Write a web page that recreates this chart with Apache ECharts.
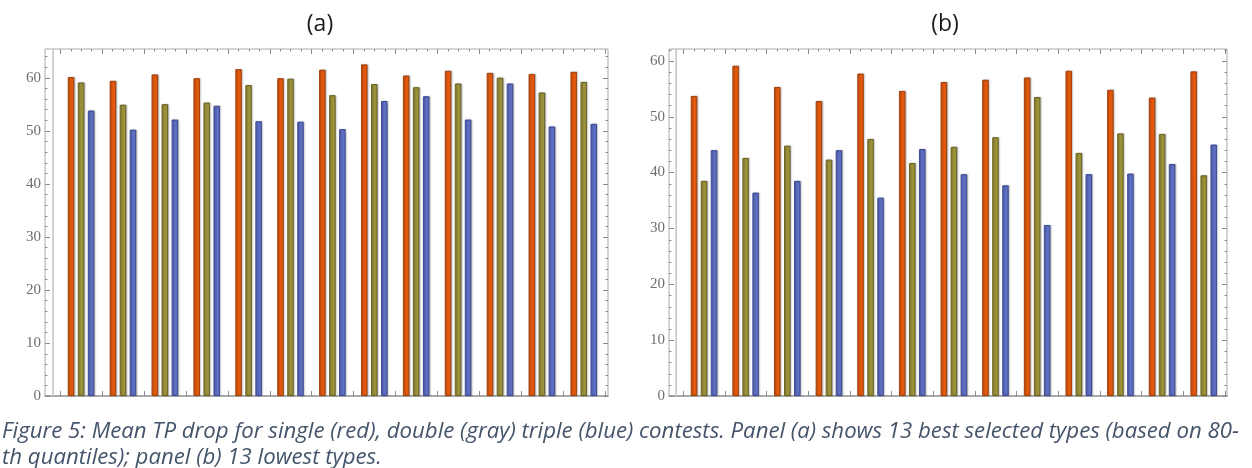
<!DOCTYPE html>
<html>
<head>
<meta charset="utf-8">
<title>Mean TP drop</title>
<script src="https://cdn.jsdelivr.net/npm/echarts@6/dist/echarts.min.js"></script>
<style>
  html, body { margin: 0; padding: 0; background: #ffffff; }
  #chart { width: 1252px; height: 468px; }
</style>
</head>
<body>
<div id="chart"></div>
<script>
// Thirteen types per panel
const categories = ['1', '2', '3', '4', '5', '6', '7', '8', '9', '10', '11', '12', '13'];

// Panel (a): 13 best selected types
const singleA = [60.1, 59.4, 60.6, 59.9, 61.6, 59.9, 61.5, 62.5, 60.4, 61.3, 60.9, 60.7, 61.1];
const doubleA = [59.1, 54.9, 55.0, 55.3, 58.6, 59.8, 56.7, 58.8, 58.2, 58.9, 60.0, 57.2, 59.2];
const tripleA = [53.8, 50.2, 52.1, 54.7, 51.8, 51.7, 50.3, 55.6, 56.5, 52.1, 58.9, 50.8, 51.3];

// Panel (b): 13 lowest types
const singleB = [53.7, 59.1, 55.3, 52.8, 57.7, 54.6, 56.2, 56.6, 57.0, 58.2, 54.8, 53.4, 58.1];
const doubleB = [38.5, 42.6, 44.8, 42.3, 46.0, 41.7, 44.6, 46.3, 53.5, 43.5, 47.0, 46.9, 39.5];
const tripleB = [44.0, 36.4, 38.5, 44.0, 35.5, 44.2, 39.7, 37.7, 30.6, 39.7, 39.8, 41.5, 45.0];

// Tick labels on the vertical frame axes
const yTickLabels = [0, 10, 20, 30, 40, 50, 60];

const panelTitles = ['(a)', '(b)'];
const caption = 'Figure 5: Mean TP drop for single (red), double (gray) triple (blue) contests. Panel (a) shows 13 best selected types (based on 80-\nth quantiles); panel (b) 13 lowest types.';

// ---- styling / layout ----
const frameTop = 49, frameBottom = 396;
const panels = [
  { frameL: 45, frameR: 608, padL: 0.36, padR: 0.08, yMax: 65.4, titleX: 320,
    series: [singleA, doubleA, tripleA] },
  { frameL: 669, frameR: 1227, padL: 0.34, padR: 0.06, yMax: 62.1, titleX: 945,
    series: [singleB, doubleB, tripleB] }
];
const fills = ['#E35A0F', '#9C923B', '#5E6EC3'];
const edges = ['#A5420B', '#6C6526', '#3E4C96'];
const frameColor = '#a9a9a9';
const tickColor = '#8c8c8c';

// tick positions between two bounds, skipping those that fall on a major step
function minorValues(lo, hi, step, majorStep) {
  const out = [];
  for (let k = Math.ceil(lo / step - 1e-9); k * step <= hi + 1e-9; k++) {
    const v = +(k * step).toFixed(6);
    if (Math.abs(v / majorStep - Math.round(v / majorStep)) > 1e-6) out.push(v);
  }
  return out;
}

// frame tick marks: [side, value, major]; side 0 bottom, 1 top, 2 left, 3 right, 4 origin axis line
function frameTickData(n, yMax) {
  const d = [];
  const majorX = categories.map((c, i) => i).concat([n]);
  const minorX = minorValues(0, n, 0.25, 1);
  const minorY = minorValues(0, yMax, 2, 10);
  [0, 1].forEach(side => {
    majorX.forEach(v => d.push([side, v, 1]));
    minorX.forEach(v => d.push([side, v, 0]));
  });
  [2, 3].forEach(side => {
    yTickLabels.forEach(v => d.push([side, v, 1]));
    minorY.forEach(v => d.push([side, v, 0]));
  });
  d.push([4, 0, 1]);
  return d;
}

function renderTick(params, api) {
  const cs = params.coordSys;
  const side = api.value(0), v = api.value(1), major = api.value(2);
  const len = major ? 5 : 2.5;
  let x1, y1, x2, y2;
  let stroke = tickColor, lw = 1;
  if (side === 0 || side === 1) {
    const x = Math.round(api.coord([v, 0])[0]) + 0.5;
    const yb = side === 0 ? cs.y + cs.height : cs.y;
    x1 = x2 = x; y1 = yb; y2 = side === 0 ? yb - len : yb + len;
  } else if (side === 2 || side === 3) {
    const y = Math.round(api.coord([0, v])[1]) + 0.5;
    const xb = side === 2 ? cs.x : cs.x + cs.width;
    y1 = y2 = y; x1 = xb; x2 = side === 2 ? xb + len : xb - len;
  } else {
    // light vertical axis line just left of the first band
    const x = api.coord([0, 0])[0] - 7;
    x1 = x2 = x; y1 = cs.y; y2 = cs.y + cs.height;
    stroke = '#c6c6c6'; lw = 1.6;
  }
  return { type: 'line', shape: { x1, y1, x2, y2 }, style: { stroke, lineWidth: lw } };
}

const grid = [], xAxis = [], yAxis = [], series = [], title = [];

panels.forEach((p, pi) => {
  const n = categories.length;
  const units = n + p.padL + p.padR;
  const bandW = (p.frameR - p.frameL) / units;
  const barL = p.frameL + p.padL * bandW;
  const h = frameBottom - frameTop;

  // grid 2*pi: bars; grid 2*pi+1: frame with labels and ticks
  grid.push({ left: barL, width: n * bandW, top: frameTop, height: h });
  grid.push({
    left: p.frameL, width: p.frameR - p.frameL, top: frameTop, height: h,
    show: true, borderColor: frameColor, borderWidth: 1, backgroundColor: 'transparent'
  });

  xAxis.push({
    type: 'category', gridIndex: 2 * pi, data: categories,
    axisLine: { show: false }, axisTick: { show: false }, axisLabel: { show: false }
  });
  yAxis.push({
    type: 'value', gridIndex: 2 * pi, min: 0, max: p.yMax,
    axisLine: { show: false }, axisTick: { show: false },
    axisLabel: { show: false }, splitLine: { show: false }
  });

  xAxis.push({
    type: 'value', gridIndex: 2 * pi + 1, min: -p.padL, max: n + p.padR,
    axisLine: { show: true, onZero: false, lineStyle: { color: '#9a9a9a', width: 1.6 } },
    axisTick: { show: false }, axisLabel: { show: false }, splitLine: { show: false }
  });
  yAxis.push({
    type: 'value', gridIndex: 2 * pi + 1, min: 0, max: p.yMax,
    axisLine: { show: false }, axisTick: { show: false }, splitLine: { show: false },
    axisLabel: {
      show: true, margin: 4, customValues: yTickLabels,
      fontFamily: 'Liberation Serif', fontSize: 15, color: '#6e6e6e'
    }
  });

  p.series.forEach((vals, si) => {
    series.push({
      type: 'bar', xAxisIndex: 2 * pi, yAxisIndex: 2 * pi, data: vals,
      barWidth: 6.5, barGap: '54%',
      itemStyle: {
        color: fills[si], borderColor: edges[si], borderWidth: 1,
        shadowColor: 'rgba(0,0,0,0.28)', shadowBlur: 1.5, shadowOffsetX: 1, shadowOffsetY: 0
      },
      emphasis: { disabled: true },
      z: 3
    });
  });

  series.push({
    type: 'custom', xAxisIndex: 2 * pi + 1, yAxisIndex: 2 * pi + 1,
    data: frameTickData(n, p.yMax), renderItem: renderTick,
    silent: true, clip: false, z: 1
  });

  title.push({
    text: panelTitles[pi], left: p.titleX, top: 13, textAlign: 'center', padding: 0,
    textStyle: { fontFamily: 'Open Sans', fontSize: 23, fontWeight: 'normal', color: '#1a1a1a' }
  });
});

title.push({
  text: caption, left: 2, top: 419, padding: 0,
  textStyle: {
    fontFamily: 'Open Sans', fontStyle: 'italic', fontWeight: 'normal', fontSize: 22.2,
    color: '#44546A', lineHeight: 26
  }
});

const chart = echarts.init(document.getElementById('chart'), null, { renderer: 'canvas' });
chart.setOption({
  animation: false,
  backgroundColor: '#ffffff',
  title: title,
  grid: grid,
  xAxis: xAxis,
  yAxis: yAxis,
  series: series
});
</script>
</body>
</html>
